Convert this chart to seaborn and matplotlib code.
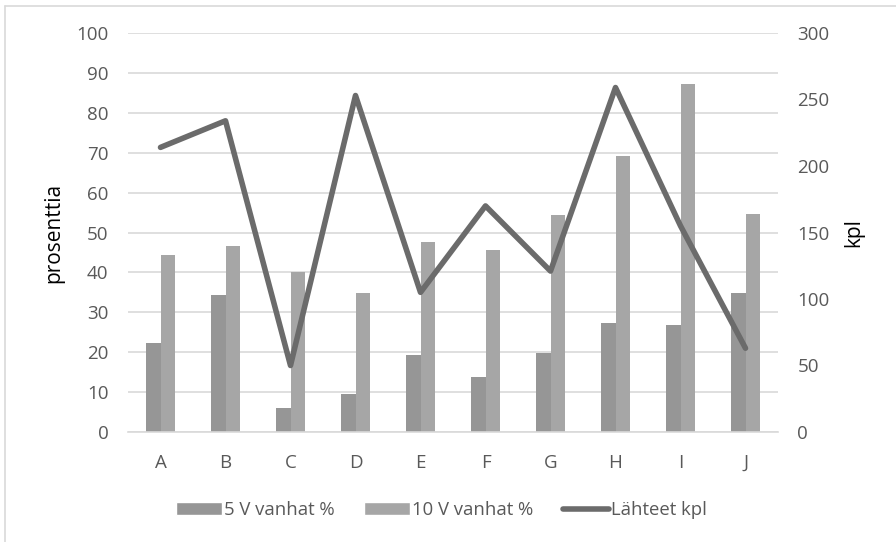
import numpy as np
import pandas as pd
import seaborn as sns
import matplotlib.pyplot as plt
from matplotlib.lines import Line2D
from matplotlib.patches import Patch

# data
cats = ["A", "B", "C", "D", "E", "F", "G", "H", "I", "J"]
v5 = [22.4, 34.3, 6.1, 9.6, 19.2, 13.7, 19.9, 27.4, 26.9, 34.9]
v10 = [44.4, 46.6, 40.0, 34.8, 47.6, 45.6, 54.5, 69.1, 87.2, 54.7]
kpl = [214, 234, 50, 253, 105, 170, 121, 259, 155, 63]
s5, s10, s_line = "5 V vanhat %", "10 V vanhat %", "Lähteet kpl"

c5, c10, c_line = "#969696", "#a6a6a6", "#6b6b6b"
txt = "#595959"

sns.set_theme(style="white")
plt.rcParams["font.family"] = ["Open Sans", "DejaVu Sans"]

df = pd.DataFrame({"cat": cats * 2,
                   "val": v5 + v10,
                   "serie": [s5] * len(cats) + [s10] * len(cats)})

fig = plt.figure(figsize=(8.96, 5.42), dpi=100)
ax = fig.add_axes([128 / 896, 1 - 432 / 542, 650 / 896, 399 / 542])

sns.barplot(data=df, x="cat", y="val", hue="serie", hue_order=[s5, s10],
            palette={s5: c5, s10: c10}, width=0.46, gap=0, ax=ax,
            saturation=1, legend=False, errorbar=None, linewidth=0)
ax.set_ylim(0, 100)
ax.set_xlim(-0.5, len(cats) - 0.5)
ax.set_yticks(range(0, 101, 10))
ax.yaxis.grid(True, color="#d9d9d9", linewidth=1.2)
ax.set_axisbelow(True)
for sp in ["top", "right", "left"]:
    ax.spines[sp].set_visible(False)
ax.spines["bottom"].set_color("#d9d9d9")
ax.spines["bottom"].set_linewidth(1.2)
ax.tick_params(axis="y", length=0, labelsize=13.5, colors=txt, pad=14)
ax.tick_params(axis="x", length=0, labelsize=13.5, colors=txt, pad=16)
ax.set_xlabel("")
ax.set_ylabel("prosenttia", fontsize=15, color="black", labelpad=9)

ax2 = ax.twinx()
sns.lineplot(x=np.arange(len(cats)), y=kpl, color=c_line, linewidth=4,
             ax=ax2, legend=False)
ax2.set_ylim(0, 300)
ax2.set_yticks(range(0, 301, 50))
for sp in ax2.spines.values():
    sp.set_visible(False)
ax2.tick_params(axis="y", length=0, labelsize=13.5, colors=txt, pad=14)
ax2.set_ylabel("kpl", fontsize=15, color="black", labelpad=10)

handles = [Patch(facecolor=c5, label=s5),
           Patch(facecolor=c10, label=s10),
           Line2D([0], [0], color=c_line, linewidth=4, solid_capstyle="round", label=s_line)]
fig.legend(handles=handles, loc="center", bbox_to_anchor=(0.493, 1 - 510 / 542),
           ncol=3, frameon=False, fontsize=13.3, labelcolor=txt,
           handlelength=2.45, handleheight=0.7, columnspacing=1.6, handletextpad=0.15)

# thin outer frame like the original chart border
fig.add_artist(Line2D([5 / 896, 5 / 896], [0, 1 - 6 / 542], color="#d9d9d9", linewidth=1.2))
fig.add_artist(Line2D([5 / 896, 1], [1 - 6 / 542, 1 - 6 / 542], color="#d9d9d9", linewidth=1.2))

fig.savefig("out.png", dpi=100)
